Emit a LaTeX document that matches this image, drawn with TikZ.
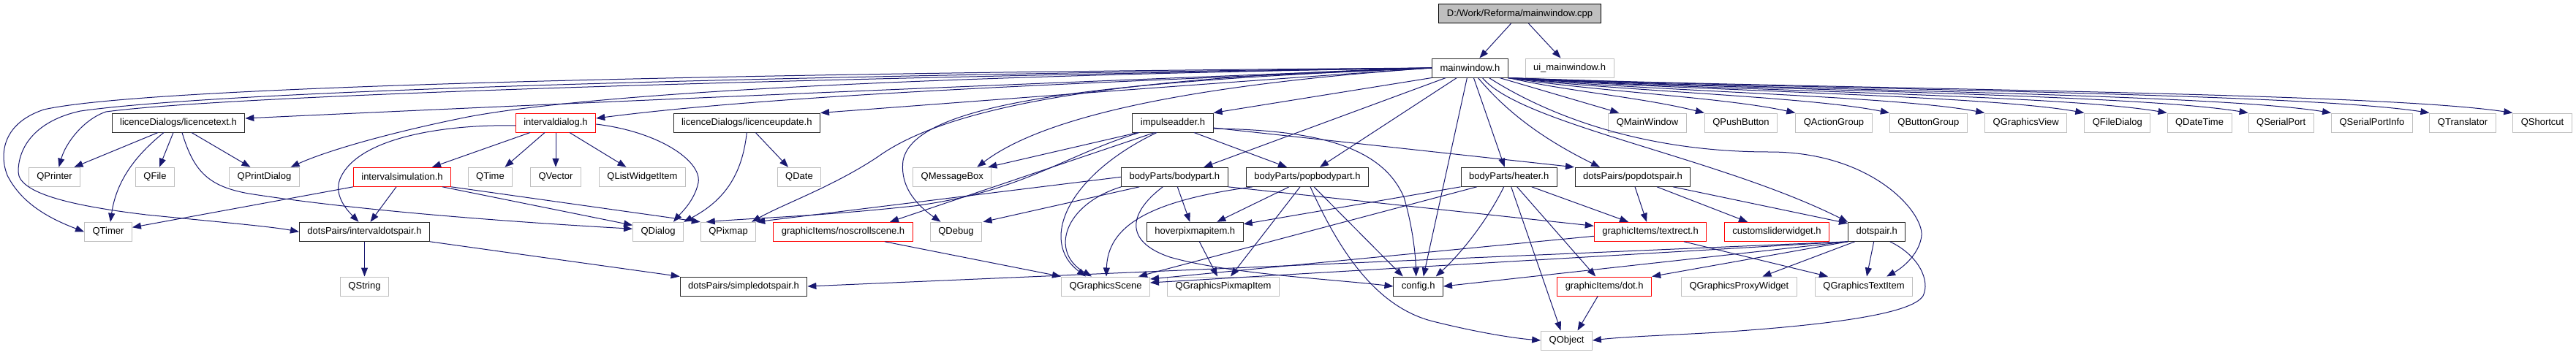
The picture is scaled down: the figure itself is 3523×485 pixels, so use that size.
\documentclass[tikz,border=0pt]{standalone}
\usepackage{fontspec}
\setmainfont{Liberation Sans}
\usetikzlibrary{arrows.meta}
\definecolor{edgeblue}{HTML}{191970}
\definecolor{extgray}{HTML}{BFBFBF}
\definecolor{cutred}{HTML}{FF0000}

\begin{document}
\begin{tikzpicture}[x=1pt,y=-1pt,
  every node/.style={font=\fontsize{13pt}{15pt}\selectfont,inner xsep=11pt,inner ysep=0pt,minimum height=26pt},
  rootbox/.style={draw=black,line width=1pt,fill=extgray},
  docbox/.style={draw=black!85,line width=1pt,fill=white},
  redbox/.style={draw=cutred,line width=1pt,fill=white},
  libbox/.style={draw=extgray,line width=1pt,fill=white},
  incl/.style={draw=edgeblue,line width=1pt,-{Triangle[length=12pt,width=9pt]}},
]
  \path[fill=white] (0,0) rectangle (3523,485);
  \useasboundingbox (0,0) rectangle (3523,485);

  % top
  \node[rootbox] (cpp) at (2078.5,18.7) {D:/Work/Reforma/mainwindow.cpp};
  \node[docbox] (mainwin) at (2010.4,93) {mainwindow.h};
  \node[libbox] (uimain) at (2146.5,93) {ui\_mainwindow.h};

  % third row
  \node[docbox] (lictext) at (244,168) {licenceDialogs/licencetext.h};
  \node[redbox] (intdlg) at (760,168) {intervaldialog.h};
  \node[docbox] (licupd) at (1021.3,168) {licenceDialogs/licenceupdate.h};
  \node[docbox] (impadd) at (1604,168) {impulseadder.h};
  \node[libbox] (qmainwindow) at (2253,168) {QMainWindow};
  \node[libbox] (qpushbutton) at (2381,168) {QPushButton};
  \node[libbox] (qactiongroup) at (2508,168) {QActionGroup};
  \node[libbox] (qbuttongroup) at (2637.3,168) {QButtonGroup};
  \node[libbox] (qgview) at (2770.7,168) {QGraphicsView};
  \node[libbox] (qfiledialog) at (2895.8,168) {QFileDialog};
  \node[libbox] (qdatetime) at (3008,168) {QDateTime};
  \node[libbox] (qserialport) at (3119.7,168) {QSerialPort};
  \node[libbox] (qserialinfo) at (3244,168) {QSerialPortInfo};
  \node[libbox] (qtranslator) at (3368,168) {QTranslator};
  \node[libbox] (qshortcut) at (3477,168) {QShortcut};

  % fourth row
  \node[libbox] (qprinter) at (74.5,242.3) {QPrinter};
  \node[libbox] (qfile) at (212,242.3) {QFile};
  \node[libbox] (qprintdialog) at (361.5,242.3) {QPrintDialog};
  \node[redbox] (intsim) at (550,242.3) {intervalsimulation.h};
  \node[libbox] (qtime) at (670.5,242.3) {QTime};
  \node[libbox] (qvector) at (760,242.3) {QVector};
  \node[libbox] (qlistitem) at (878.5,242.3) {QListWidgetItem};
  \node[libbox] (qdate) at (1093,242.3) {QDate};
  \node[libbox] (qmessagebox) at (1302.3,242.3) {QMessageBox};
  \node[docbox] (bodypart) at (1606.3,242.3) {bodyParts/bodypart.h};
  \node[docbox] (popbodypart) at (1788,242.3) {bodyParts/popbodypart.h};
  \node[docbox] (heater) at (2063.7,242.3) {bodyParts/heater.h};
  \node[docbox] (popdotspair) at (2233,242.3) {dotsPairs/popdotspair.h};

  % fifth row
  \node[libbox] (qtimer) at (148,317.3) {QTimer};
  \node[docbox] (intdots) at (498.5,317.3) {dotsPairs/intervaldotspair.h};
  \node[libbox] (qdialog) at (900,317.3) {QDialog};
  \node[libbox] (qpixmap) at (996,317.3) {QPixmap};
  \node[redbox] (noscroll) at (1153,317.3) {graphicItems/noscrollscene.h};
  \node[libbox] (qdebug) at (1307.5,317.3) {QDebug};
  \node[docbox] (hoverpix) at (1634.3,317.3) {hoverpixmapitem.h};
  \node[redbox] (textrect) at (2257,317.3) {graphicItems/textrect.h};
  \node[redbox] (slider) at (2430,317.3) {customsliderwidget.h};
  \node[docbox] (dotspair) at (2566.7,317.3) {dotspair.h};

  % sixth row
  \node[libbox] (qstring) at (498.5,392) {QString};
  \node[docbox] (simpledots) at (1017,392) {dotsPairs/simpledotspair.h};
  \node[libbox] (qgscene) at (1512,392) {QGraphicsScene};
  \node[libbox] (qgpixitem) at (1673,392) {QGraphicsPixmapItem};
  \node[docbox] (config) at (1939.7,392) {config.h};
  \node[redbox] (dot) at (2194.2,392) {graphicItems/dot.h};
  \node[libbox] (qgproxy) at (2378.4,392) {QGraphicsProxyWidget};
  \node[libbox] (qgtextitem) at (2549,392) {QGraphicsTextItem};
  \node[libbox] (qobject) at (2142.5,466) {QObject};

  % mainwindow.cpp
  \draw[incl] ([xshift=-12pt]cpp.south) -- ([xshift=13pt]mainwin.north);
  \draw[incl] ([xshift=12pt]cpp.south) -- ([xshift=-12pt]uimain.north);

  % mainwindow.h, to the left
  \draw[incl] (mainwin.west) .. controls (1000,100) and (200,118) .. (60,150) .. controls (0,170) and (0,215) .. (10,240) .. controls (30,280) and (70,300) .. (qtimer.west);
  \draw[incl] (mainwin.west) .. controls (1000,104) and (300,125) .. (110,152) .. controls (50,165) and (25,200) .. (25,235) .. controls (25,265) and (100,282) .. (200,294) .. controls (300,304) and (370,310) .. (intdots.west);
  \draw[incl] (mainwin.west) .. controls (1000,108) and (300,132) .. (145,153) .. controls (115,163) and (90,195) .. ([xshift=6pt]qprinter.north);
  \draw[incl] (mainwin.west) .. controls (1300,118) and (700,145) .. ([yshift=6pt]lictext.east);
  \draw[incl] (mainwin.west) .. controls (1200,105) and (800,130) .. (640,160) .. controls (540,180) and (450,205) .. ([xshift=36pt]qprintdialog.north);
  \draw[incl] (mainwin.west) .. controls (1600,110) and (1100,125) .. ([yshift=6pt]intdlg.east);
  \draw[incl] (mainwin.west) .. controls (1600,118) and (1250,145) .. (licupd.north east);
  \draw[incl] (mainwin.south west) -- (impadd.north east);
  \draw[incl] (mainwin.west) .. controls (1600,118) and (1420,165) .. ([xshift=34pt]qmessagebox.north);
  \draw[incl] (mainwin.west) .. controls (1500,112) and (1250,140) .. (1235,220) .. controls (1230,260) and (1260,285) .. ([xshift=-21pt]qdebug.north);
  \draw[incl] (mainwin.west) .. controls (1500,105) and (1290,150) .. (1200,215) .. controls (1140,255) and (1070,280) .. ([xshift=32pt]qpixmap.north);

  % mainwindow.h, downwards
  \draw[incl] ([xshift=-33pt]mainwin.south) -- ([xshift=40pt]bodypart.north);
  \draw[incl] ([xshift=-18pt]mainwin.south) -- ([xshift=17pt]popbodypart.north);
  \draw[incl] ([xshift=-4pt]mainwin.south) -- ([xshift=7pt]config.north);
  \draw[incl] ([xshift=5pt]mainwin.south) -- ([xshift=-6pt]heater.north);
  \draw[incl] ([xshift=11pt]mainwin.south) .. controls (2070,165) and (2130,200) .. ([xshift=-45pt]popdotspair.north);
  \draw[incl] ([xshift=17pt]mainwin.south) .. controls (2080,170) and (2350,215) .. (dotspair.north west);
  \draw[incl] ([xshift=26pt]mainwin.south) .. controls (2120,160) and (2250,208) .. (2420,208) .. controls (2560,208) and (2630,290) .. (2628,322) .. controls (2626,345) and (2605,365) .. ([xshift=-36pt]qgtextitem.north east);
  \draw[incl] ([xshift=-12pt]mainwin.south east) -- ([xshift=15pt]qmainwindow.north west);

  % mainwindow.h, to the right
  \draw[incl] (mainwin.south east) .. controls (2143,125) and (2244,133) .. (qpushbutton.north west);
  \draw[incl] (mainwin.south east) .. controls (2180,125) and (2357,133) .. (qactiongroup.north west);
  \draw[incl] (mainwin.south east) .. controls (2219,125) and (2472,132) .. (qbuttongroup.north west);
  \draw[incl] (mainwin.south east) .. controls (2258,125) and (2589,131) .. (qgview.north west);
  \draw[incl] (mainwin.south east) .. controls (2299,124) and (2712,130) .. (qfiledialog.north west);
  \draw[incl] (mainwin.south east) .. controls (2333,124) and (2814,129) .. (qdatetime.north west);
  \draw[incl] (mainwin.south east) .. controls (2366,123) and (2914,128) .. (qserialport.north west);
  \draw[incl] (mainwin.south east) .. controls (2400,123) and (3016,127) .. (qserialinfo.north west);
  \draw[incl] (mainwin.south east) .. controls (2440,122) and (3137,126) .. (qtranslator.north west);
  \draw[incl] (mainwin.south east) .. controls (2474,122) and (3239,125) .. (qshortcut.north west);

  % licencetext.h
  \draw[incl] ([xshift=-28pt]lictext.south) -- ([xshift=27pt]qprinter.north);
  \draw[incl] ([xshift=-20pt]lictext.south) .. controls (195,205) and (160,240) .. ([xshift=3pt]qtimer.north);
  \draw[incl] ([xshift=-7pt]lictext.south) -- ([xshift=6pt]qfile.north);
  \draw[incl] ([xshift=18pt]lictext.south) -- ([xshift=-19pt]qprintdialog.north);
  \draw[incl] ([xshift=5pt]lictext.south) .. controls (265,235) and (285,255) .. (340,265) .. controls (500,290) and (720,305) .. ([yshift=4pt]qdialog.west);

  % intervaldialog.h
  \draw[incl] ([xshift=-35pt]intdlg.south) -- ([xshift=41pt]intsim.north);
  \draw[incl] ([xshift=-15pt]intdlg.south) -- ([xshift=20pt]qtime.north);
  \draw[incl] (intdlg.south) -- (qvector.north);
  \draw[incl] ([xshift=19pt]intdlg.south) -- ([xshift=-22pt]qlistitem.north);
  \draw[incl] ([yshift=-2pt]intdlg.east) .. controls (900,180) and (960,220) .. (955,250) .. controls (950,275) and (930,293) .. ([xshift=21pt]qdialog.north);
  \draw[incl] ([yshift=-4pt]intdlg.west) .. controls (620,170) and (490,185) .. (465,245) .. controls (455,270) and (480,293) .. ([xshift=-8pt]intdots.north);

  % licenceupdate.h
  \draw[incl] ([xshift=12pt]licupd.south) -- ([xshift=-15pt]qdate.north);
  \draw[incl] (licupd.south) .. controls (1015,240) and (990,275) .. (qdialog.north east);

  % intervalsimulation.h
  \draw[incl] (intsim.south west) -- ([yshift=6pt]qtimer.east);
  \draw[incl] ([xshift=-8pt]intsim.south) -- ([xshift=8pt]intdots.north);
  \draw[incl] ([xshift=55pt]intsim.south) -- ([yshift=9pt]qdialog.west);
  \draw[incl] (intsim.south east) -- (qpixmap.north west);

  % intervaldotspair.h
  \draw[incl] (intdots.south) -- (qstring.north);
  \draw[incl] (intdots.south east) -- (simpledots.north west);

  % impulseadder.h
  \draw[incl] ([xshift=-48pt]impadd.south) -- ([xshift=49pt]qmessagebox.north);
  \draw[incl] ([xshift=-46pt]impadd.south) .. controls (1450,215) and (1400,262) .. (1250,282) .. controls (1120,296) and (1040,298) .. ([xshift=8pt]qpixmap.north west);
  \draw[incl] ([xshift=-25pt]impadd.south) -- ([xshift=64pt]noscroll.north);
  \draw[incl] ([xshift=-22pt]impadd.south) .. controls (1460,240) and (1420,330) .. ([xshift=-27pt]qgscene.north);
  \draw[incl] ([xshift=29pt]impadd.south) -- ([xshift=-28pt]popbodypart.north);
  \draw[incl] ([yshift=-7pt]impadd.east) -- ([xshift=-80pt]popdotspair.north);
  \draw[incl] ([yshift=-8pt]impadd.east) .. controls (1800,178) and (1890,200) .. (1920,270) .. controls (1932,310) and (1936,350) .. ([xshift=-3pt]config.north);

  % bodypart.h
  \draw[incl] (bodypart.west) -- (qpixmap.north east);
  \draw[incl] ([xshift=-48pt]bodypart.south) -- ([xshift=37pt]qdebug.north);
  \draw[incl] ([xshift=-73pt]bodypart.south) .. controls (1455,280) and (1435,345) .. ([xshift=-19pt]qgscene.north);
  \draw[incl] ([xshift=4pt]bodypart.south) -- ([xshift=-7pt]hoverpix.north);
  \draw[incl] ([xshift=-16pt]bodypart.south) .. controls (1545,290) and (1535,330) .. (1600,352) .. controls (1680,375) and (1820,382) .. (config.west);
  \draw[incl] (bodypart.south east) -- ([yshift=8pt]textrect.west);

  % popbodypart.h
  \draw[incl] ([xshift=-75pt]popbodypart.south) .. controls (1570,275) and (1515,310) .. ([xshift=1pt]qgscene.north);
  \draw[incl] ([xshift=-25pt]popbodypart.south) -- ([xshift=30pt]hoverpix.north);
  \draw[incl] ([xshift=-10pt]popbodypart.south) -- ([xshift=10pt]qgpixitem.north);
  \draw[incl] ([xshift=9pt]popbodypart.south) -- ([xshift=-21pt]config.north);
  \draw[incl] ([xshift=4pt]popbodypart.south) .. controls (1830,340) and (1880,420) .. (1960,440) .. controls (2020,455) and (2070,463) .. (qobject.west);

  % heater.h
  \draw[incl] (heater.south west) -- ([yshift=-3pt]hoverpix.north east);
  \draw[incl] ([xshift=-44pt]heater.south) -- ([xshift=45pt]qgscene.north);
  \draw[incl] ([xshift=-7pt]heater.south) .. controls (2035,300) and (2000,345) .. ([xshift=24pt]config.north);
  \draw[incl] ([xshift=3pt]heater.south) -- ([xshift=-8pt]qobject.north);
  \draw[incl] ([xshift=11pt]heater.south) -- ([xshift=-12pt]dot.north);
  \draw[incl] ([xshift=31pt]heater.south) -- ([xshift=-30pt]textrect.north);

  % popdotspair.h
  \draw[incl] ([xshift=3pt]popdotspair.south) -- ([xshift=-5pt]textrect.north);
  \draw[incl] ([xshift=33pt]popdotspair.south) -- ([xshift=-40pt]slider.north);
  \draw[incl] ([xshift=55pt]popdotspair.south) -- ([yshift=-2pt]dotspair.north west);

  % textrect.h, noscrollscene.h, hoverpixmapitem.h, dot.h
  \draw[incl] ([yshift=-6pt]textrect.west) -- ([yshift=10pt]qgscene.east);
  \draw[incl] ([xshift=46pt]textrect.south) -- ([xshift=-49pt]qgtextitem.north);
  \draw[incl] ([xshift=57pt]noscroll.south) -- (qgscene.north west);
  \draw[incl] ([xshift=6pt]hoverpix.south) -- ([xshift=-8pt]qgpixitem.north);
  \draw[incl] ([xshift=-9pt]dot.south) -- ([xshift=15pt]qobject.north);

  % dotspair.h
  \draw[incl] (dotspair.south west) -- (dot.north east);
  \draw[incl] (dotspair.south west) -- (config.east);
  \draw[incl] (dotspair.south west) -- ([yshift=5pt]qgscene.east);
  \draw[incl] (dotspair.south west) -- (simpledots.east);
  \draw[incl] ([xshift=-30pt]dotspair.south) -- ([xshift=32pt]qgproxy.north);
  \draw[incl] ([xshift=-4pt]dotspair.south) -- ([xshift=4pt]qgtextitem.north);
  \draw[incl] ([xshift=18pt]dotspair.south) .. controls (2625,350) and (2640,385) .. (2630,405) .. controls (2615,430) and (2500,445) .. (2350,455) .. controls (2280,459) and (2220,461) .. (qobject.east);
\end{tikzpicture}
\end{document}
